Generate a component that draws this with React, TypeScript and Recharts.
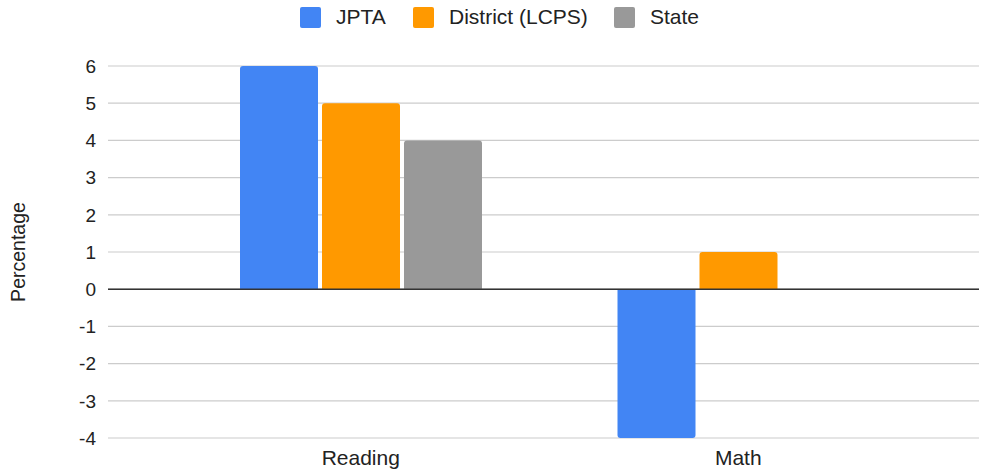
import React from "react";
import {
  BarChart,
  Bar,
  XAxis,
  YAxis,
  CartesianGrid,
  Legend,
  ReferenceLine,
} from "recharts";

const subjects = ["Reading", "Math"];
const jpta = [6, -4];
const district = [5, 1];
const state = [4, 0];
const yTicks = [-4, -3, -2, -1, 0, 1, 2, 3, 4, 5, 6];

const series = [
  { key: "jpta", name: "JPTA", color: "#4285f4", w: 113 },
  { key: "district", name: "District (LCPS)", color: "#ff9900", w: 201 },
  { key: "state", name: "State", color: "#999999", w: 90 },
];

const data = subjects.map((s, i) => ({
  subject: s,
  jpta: jpta[i],
  district: district[i],
  state: state[i],
}));

const FONT = "'Liberation Sans', Arial, sans-serif";

function TopLegend() {
  return (
    <div
      style={{
        display: "flex",
        alignItems: "center",
        fontFamily: FONT,
        fontSize: 21,
        color: "#222",
        paddingLeft: 300,
      }}
    >
      {series.map((s) => (
        <div key={s.key} style={{ display: "flex", alignItems: "center", width: s.w }}>
          <span
            style={{
              width: 21,
              height: 21,
              background: s.color,
              borderRadius: 2,
              display: "inline-block",
              marginRight: 15,
              flexShrink: 0,
            }}
          />
          <span style={{ whiteSpace: "nowrap" }}>{s.name}</span>
        </div>
      ))}
    </div>
  );
}

export default function App() {
  return (
    <div style={{ position: "absolute", left: 0, top: 0, background: "#fff" }}>
      <BarChart
        width={981}
        height={476}
        data={data}
        margin={{ top: 42, right: 2, bottom: 0, left: 0 }}
        barGap={4}
        barSize={78}
      >
        <CartesianGrid vertical={false} stroke="#cccccc" strokeWidth={1.2} />
        <Legend
          verticalAlign="top"
          wrapperStyle={{ position: "absolute", top: 5, left: 0, width: 981, height: 24 }}
          content={() => <TopLegend />}
        />
        <XAxis
          dataKey="subject"
          axisLine={false}
          tickLine={false}
          height={38}
          padding={{ left: 64, right: 52 }}
          tick={{ fontSize: 21, fill: "#222", fontFamily: FONT }}
          dy={4}
        />
        <YAxis
          domain={[-4, 6]}
          ticks={yTicks}
          interval={0}
          width={108}
          axisLine={false}
          tickLine={false}
          tick={{ fontSize: 19, fill: "#222", fontFamily: FONT }}
          dx={-4}
          label={{
            value: "Percentage",
            angle: -90,
            position: "insideLeft",
            offset: 18,
            style: { fontSize: 19.5, fill: "#222", fontFamily: FONT, textAnchor: "middle" },
          }}
        />
        <ReferenceLine y={0} stroke="#333" strokeWidth={1.5} />
        {series.map((s) => (
          <Bar
            key={s.key}
            dataKey={s.key}
            name={s.name}
            fill={s.color}
            radius={[3, 3, 0, 0]}
            isAnimationActive={false}
          />
        ))}
      </BarChart>
    </div>
  );
}
